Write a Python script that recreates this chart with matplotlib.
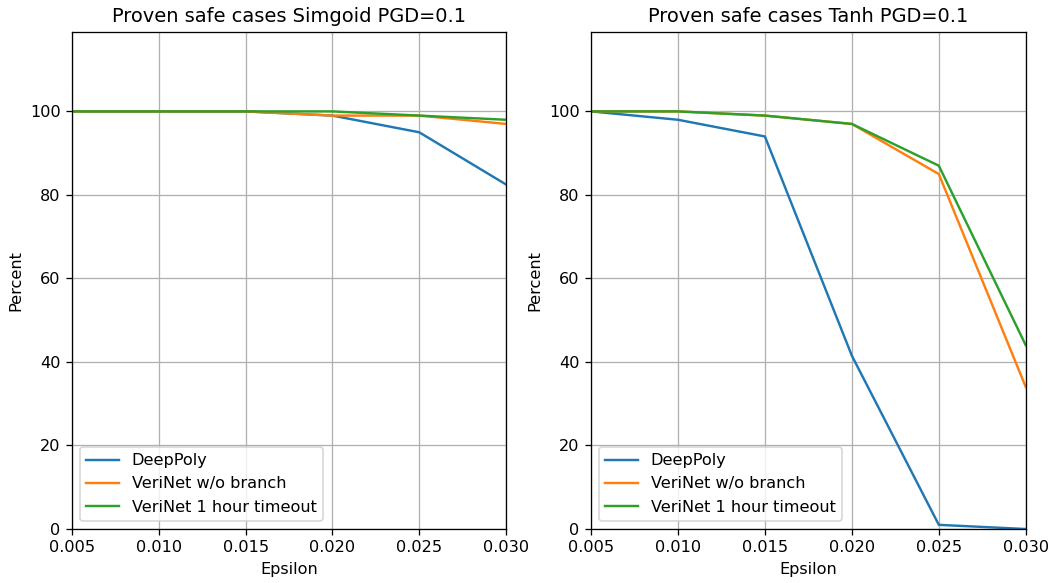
import numpy as np
import matplotlib

matplotlib.use("Agg")
import matplotlib.pyplot as plt

# Valori di epsilon
epsilon = [0.005, 0.010, 0.015, 0.020, 0.025, 0.030]

# Percentuale di casi dimostrati sicuri - rete Sigmoid
sig_deeppoly = [100, 100, 100, 99, 95, 82.5]
sig_verinet_nobranch = [100, 100, 100, 99, 99, 97]
sig_verinet_1h = [100, 100, 100, 100, 99, 98]

# Percentuale di casi dimostrati sicuri - rete Tanh
tanh_deeppoly = [100, 98, 94, 41.5, 1, 0]
tanh_verinet_nobranch = [100, 100, 99, 97, 85, 34]
tanh_verinet_1h = [100, 100, 99, 97, 87, 44]

labels = ["DeepPoly", "VeriNet w/o branch", "VeriNet 1 hour timeout"]
titles = ["Proven safe cases Simgoid PGD=0.1", "Proven safe cases Tanh PGD=0.1"]

DPI = 116


def main():
    fig = plt.figure(figsize=(1051 / DPI, 583 / DPI), dpi=DPI)
    ax1 = fig.add_axes([0.0685, 0.0926, 0.413, 0.8524])
    ax2 = fig.add_axes([0.5623, 0.0926, 0.4137, 0.8524])

    panels = [
        (ax1, [sig_deeppoly, sig_verinet_nobranch, sig_verinet_1h], titles[0]),
        (ax2, [tanh_deeppoly, tanh_verinet_nobranch, tanh_verinet_1h], titles[1]),
    ]

    for ax, series, title in panels:
        for values, label in zip(series, labels):
            ax.plot(epsilon, values, linewidth=1.5, label=label)
        ax.set_xlim(0.005, 0.030)
        ax.set_ylim(0, 119)
        ax.set_xticks(epsilon)
        ax.set_xticklabels([f"{e:.3f}" for e in epsilon])
        ax.set_yticks([0, 20, 40, 60, 80, 100])
        ax.set_xlabel("Epsilon")
        ax.set_ylabel("Percent")
        ax.set_title(title, fontsize=12)
        ax.grid(True, color="#b0b0b0", linewidth=0.8)
        ax.legend(loc="lower left", fontsize=10)

    fig.savefig("out.png", dpi=DPI)
    plt.close(fig)


if __name__ == "__main__":
    main()
